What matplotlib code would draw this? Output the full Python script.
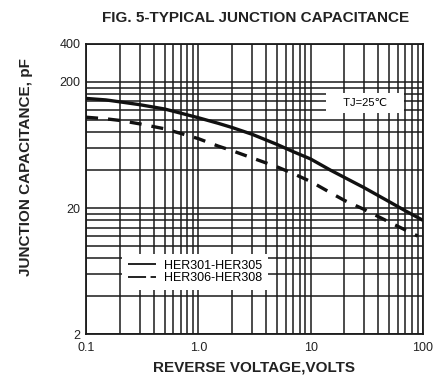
import numpy as np
import matplotlib
matplotlib.use("Agg")
import matplotlib.pyplot as plt

plt.rcParams['font.family'] = ['Liberation Sans', 'DejaVu Sans']

# values
volts = [0.1, 0.15, 0.2, 0.3, 0.5, 0.7, 1.0, 1.5, 2.0, 3.0, 5.0, 7.0,
         10.0, 15.0, 20.0, 30.0, 50.0, 70.0, 100.0]
cap_her301 = [148, 144, 139, 132, 122, 113, 104, 94, 87, 77, 64, 56,
              49, 40, 35, 29, 22.5, 19, 16]
volts_b = [0.1, 0.15, 0.2, 0.3, 0.5, 0.7, 1.0, 1.5, 2.0, 3.0, 5.0, 7.0,
           10.0, 15.0, 20.0, 30.0, 50.0, 90.0]
cap_her306 = [105, 102, 99, 93, 85, 78, 71, 62, 57, 50, 42.5, 37.5,
              32.5, 26.5, 23, 19.5, 15.5, 12]

labels = ['HER301-HER305', 'HER306-HER308']
xticks = [0.1, 1, 10, 100]
xticklabels = ['0.1', '1.0', '10', '100']
yticks = [2, 20, 200, 400]
yticklabels = ['2', '20', '200', '400']

fig = plt.figure(figsize=(4.46, 3.89), dpi=100)
ax = fig.add_axes([0.193, 0.141, 0.755, 0.746])

ax.set_xscale('log')
ax.set_yscale('log')
ax.set_xlim(0.1, 100)
ax.set_ylim(2, 400)

# grid: 1..9 per decade on x, 2,4,..,20 per decade on y
xminor = [k * 10.0 ** e for e in (-1, 0, 1) for k in range(2, 10)]
yminor = [k * 2 * 10.0 ** e for e in (0, 1) for k in range(2, 10)]
ax.set_xticks(xticks)
ax.set_xticklabels(xticklabels)
ax.set_xticks(xminor, minor=True)
ax.set_yticks(yticks)
ax.set_yticklabels(yticklabels)
ax.set_yticks(yminor, minor=True)
ax.set_xticklabels([], minor=True)
ax.set_yticklabels([], minor=True)
ax.tick_params(which='both', length=0, labelsize=9, colors='#222222')
ax.tick_params(axis='x', pad=6)
ax.tick_params(axis='y', pad=4)
ax.grid(True, which='both', color='#1a1a1a', lw=1.1)
ax.set_axisbelow(True)
for s in ax.spines.values():
    s.set_color('#1a1a1a')
    s.set_linewidth(1.3)

ax.plot(volts, cap_her301, color='#111111', lw=2.4, label=labels[0],
        solid_capstyle='butt', solid_joinstyle='round', zorder=4)
ax.plot(volts_b, cap_her306, color='#111111', lw=2.4, label=labels[1],
        dashes=(3.6, 3.0), zorder=4)

leg = ax.legend(loc='lower left', bbox_to_anchor=(0.107, 0.152),
                borderaxespad=0, frameon=True, fancybox=False,
                facecolor='white', edgecolor='none', framealpha=1,
                fontsize=9, handlelength=2.3, handletextpad=0.6,
                labelspacing=0.05, borderpad=0.45)
leg.set_zorder(5)
for ln in leg.get_lines():
    ln.set_linewidth(1.3)
leg.get_lines()[1].set_dashes((10, 2.5, 3, 2.5))

ax.text(0.828, 0.797, '    TJ=25\u2103    ', transform=ax.transAxes,
        ha='center', va='center', fontsize=8, zorder=5,
        bbox=dict(facecolor='white', edgecolor='none', pad=3.5))

fig.text(0.574, 0.953, 'FIG. 5-TYPICAL JUNCTION CAPACITANCE',
         ha='center', va='center', fontsize=11, fontweight='bold',
         color='#222222')
ax.set_xlabel('REVERSE VOLTAGE,VOLTS', fontsize=11, fontweight='bold',
              color='#222222', labelpad=4)
ax.set_ylabel('JUNCTION CAPACITANCE, pF', fontsize=11, fontweight='bold',
              color='#222222')
ax.yaxis.set_label_coords(-0.158, 0.576)

fig.savefig('out.png', dpi=100)
